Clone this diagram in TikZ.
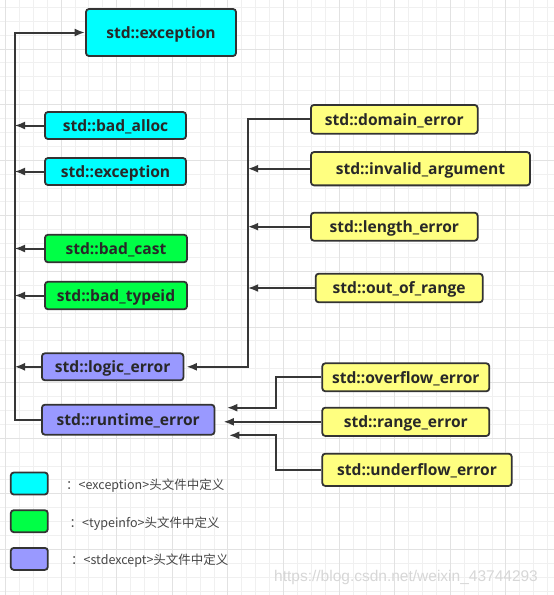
\documentclass[tikz,border=0pt]{standalone}
\usepackage{fontspec}
\setmainfont{Open Sans}
\newfontfamily\cjkfont{Noto Sans CJK SC}
\newfontfamily\wmfont{Liberation Sans}
\usetikzlibrary{arrows.meta}
\definecolor{cyanbox}{RGB}{0,255,255}
\definecolor{greenbox}{RGB}{0,255,70}
\definecolor{bluebox}{RGB}{153,153,255}
\definecolor{yellowbox}{RGB}{255,255,128}
\definecolor{edge}{RGB}{51,51,51}
\definecolor{txt}{RGB}{40,40,40}
\definecolor{linec}{RGB}{55,55,55}
\definecolor{gridminor}{RGB}{240,240,240}
\definecolor{gridmajor}{RGB}{226,226,226}
\definecolor{legtxt}{RGB}{70,70,70}
\definecolor{wm}{RGB}{215,215,215}
\begin{document}
\begin{tikzpicture}[x=1pt,y=-1pt,
  box/.style={draw=edge, line width=1.8pt, rounded corners=3pt, text=txt,
    font=\fontsize{15.6}{18}\selectfont\bfseries, inner sep=0pt,
    text height=11.6pt, text depth=0pt},
  legbox/.style={draw=edge, line width=1.8pt, rounded corners=3pt,
    minimum width=37pt, minimum height=22pt, inner sep=0pt},
  legtext/.style={anchor=west, text=legtxt, font=\cjkfont\fontsize{12.5}{14}\selectfont, inner sep=0pt},
  arr/.style={draw=linec, line width=2pt, -{Latex[length=10.5pt,width=8pt]}}]
\useasboundingbox (0,0) rectangle (554,595);
\fill[white] (0,0) rectangle (554,595);
% grid
\foreach \i in {0,...,39} {
  \draw[gridminor, line width=0.9pt] ({5.5+13.9*\i},0) -- ({5.5+13.9*\i},595);
}
\foreach \i in {0,...,42} {
  \draw[gridminor, line width=0.9pt] (0,{7.3+13.9*\i}) -- (554,{7.3+13.9*\i});
}
\foreach \i in {0,...,9} {
  \draw[gridmajor, line width=0.9pt] ({5.5+55.6*\i},0) -- ({5.5+55.6*\i},595);
}
\foreach \i in {0,...,10} {
  \draw[gridmajor, line width=0.9pt] (0,{49.0+55.6*\i}) -- (554,{49.0+55.6*\i});
}
% nodes
\node[box, fill=cyanbox, minimum width=150pt, minimum height=47pt] (excmain) at (161,32.5) {std::exception};
\node[box, fill=cyanbox, minimum width=141pt, minimum height=27pt] (badalloc) at (115.5,125.5) {std::bad\_alloc};
\node[box, fill=cyanbox, minimum width=141pt, minimum height=27pt] (exctwo) at (115.5,171.5) {std::exception};
\node[box, fill=greenbox, minimum width=142pt, minimum height=27.5pt] (badcast) at (116,248.5) {std::bad\_cast};
\node[box, fill=greenbox, minimum width=142pt, minimum height=27.5pt] (badtypeid) at (116,295.5) {std::bad\_typeid};
\node[box, fill=bluebox, minimum width=141.5pt, minimum height=27pt] (logic) at (112.7,366.8) {std::logic\_error};
\node[box, fill=bluebox, minimum width=172.5pt, minimum height=30pt] (runtime) at (128.2,419.7) {std::runtime\_error};
\node[box, fill=yellowbox, minimum width=166.7pt, minimum height=28.7pt] (domain) at (394.3,119.3) {std::domain\_error};
\node[box, fill=yellowbox, minimum width=219pt, minimum height=33.3pt] (invalid) at (420.5,168.7) {std::invalid\_argument};
\node[box, fill=yellowbox, minimum width=166.7pt, minimum height=28pt] (length) at (394.3,226.7) {std::length\_error};
\node[box, fill=yellowbox, minimum width=167pt, minimum height=28.6pt] (outofrange) at (399.2,288) {std::out\_of\_range};
\node[box, fill=yellowbox, minimum width=167pt, minimum height=28pt] (overflow) at (405.8,377.3) {std::overflow\_error};
\node[box, fill=yellowbox, minimum width=167pt, minimum height=28.3pt] (range) at (405.8,421.8) {std::range\_error};
\node[box, fill=yellowbox, minimum width=189.4pt, minimum height=32.3pt] (underflow) at (417,469.8) {std::underflow\_error};
% trunk coordinates
\coordinate (ltrunk) at (14.5,32.5);
\coordinate (rtrunk) at (247.7,119.3);
\coordinate (ovx) at (276,407.7);
\coordinate (unx) at (276,435.3);
% left tree
\draw[arr] (runtime.west) -| (ltrunk) -- (excmain.west);
\draw[arr] (badalloc.west) -- (badalloc.west -| ltrunk);
\draw[arr] (exctwo.west) -- (exctwo.west -| ltrunk);
\draw[arr] (badcast.west) -- (badcast.west -| ltrunk);
\draw[arr] (badtypeid.west) -- (badtypeid.west -| ltrunk);
\draw[arr] (logic.west) -- (logic.west -| ltrunk);
% logic tree
\draw[arr, shorten >=2pt] (domain.west) -- (rtrunk) |- (logic.east);
\draw[arr] (invalid.west) -- (invalid.west -| rtrunk);
\draw[arr] (length.west) -- (length.west -| rtrunk);
\draw[arr] (outofrange.west) -- (outofrange.west -| rtrunk);
% runtime tree
\draw[arr, shorten >=11.5pt] (overflow.west) -| (ovx) -- (runtime.east |- ovx);
\draw[arr, shorten >=8pt] (range.west) -- (range.west -| runtime.east);
\draw[arr, shorten >=13.5pt] (underflow.west) -| (unx) -- (runtime.east |- unx);
% legend
\node[legbox, fill=cyanbox] (legA) at (29.3,483.5) {};
\node[legbox, fill=greenbox] (legB) at (29.3,521.2) {};
\node[legbox, fill=bluebox] (legC) at (29.3,558.9) {};
\node[legtext] (legAt) at (66,485.7) {：<exception>头文件中定义};
\node[legtext] (legBt) at (69.5,523.3) {：<typeinfo>头文件中定义};
\node[legtext] (legCt) at (71,561) {：<stdexcept>头文件中定义};
% watermark
\node[anchor=west, inner sep=0pt, text=wm, font=\wmfont\fontsize{15.5}{18}\selectfont] (wmark) at (274,577) {https://blog.csdn.net/weixin\_43744293};
\end{tikzpicture}
\end{document}
